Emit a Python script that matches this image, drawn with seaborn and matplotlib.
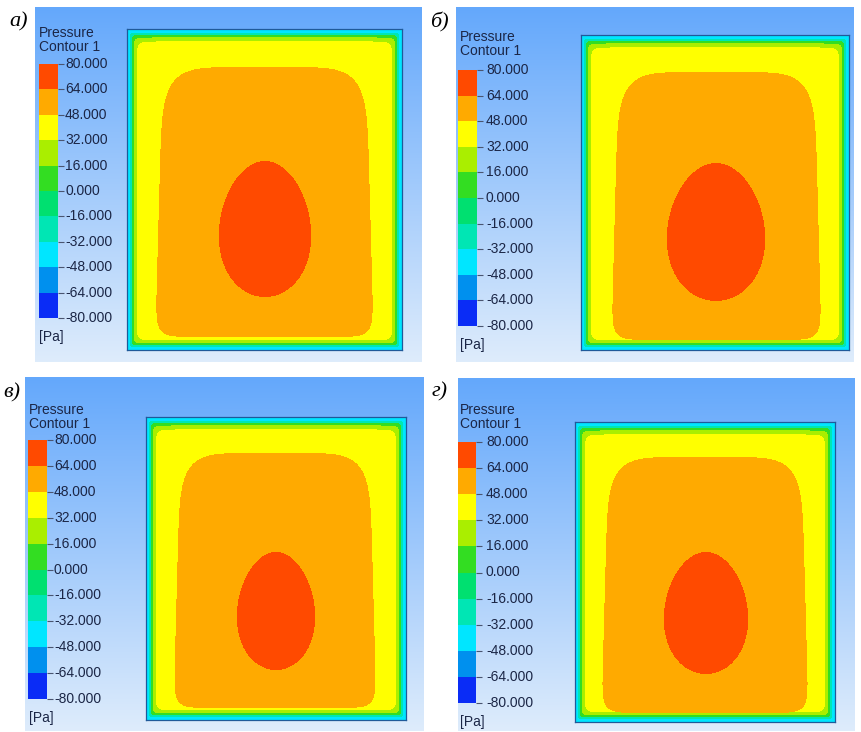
import numpy as np
import matplotlib
matplotlib.use("Agg")
import matplotlib.pyplot as plt
from matplotlib.colors import ListedColormap
import seaborn as sns

# ---------------- data ----------------
panel_labels = ["а)", "б)", "в)", "г)"]
tick_labels = ["80.000", "64.000", "48.000", "32.000", "16.000", "0.000",
               "-16.000", "-32.000", "-48.000", "-64.000", "-80.000"]
tick_values = [80, 64, 48, 32, 16, 0, -16, -32, -48, -64, -80]
band_colors = ["#0a2cf6", "#0090ee", "#00e6ff", "#00e6b4", "#00e070",
               "#33dd22", "#aaee00", "#ffff00", "#ffaa00", "#ff4a00"]  # low -> high

# pressure level of each zone of the contour [Pa]
p_wall_edge = -40.0
p_wall_teal = -24.0
p_wall_green = 8.0
p_wall_yg = 24.0
p_yellow = 40.0
p_core = 56.0
p_peak = 72.0

# geometry (pixels)
bg_boxes = [(35, 7, 422, 362), (456, 7, 854, 362),
            (25, 377, 424, 731), (458, 378, 854, 731)]
dom_boxes = [(127, 29, 402, 350), (581, 35, 849, 350),
             (146, 417, 406, 720), (575, 422, 835, 722)]
core_insets = [(32, 32, 38, 13), (34, 31, 37, 10),
               (31, 33, 36, 12), (30, 30, 35, 9)]
eggs = [(138, 200, 46, 68), (135, 197, 49, 69),
        (130, 194, 39, 59), (131, 191, 42, 61)]
cbar_boxes = [(39, 58, 64, 318, 65), (458, 477, 70, 326, 486),
              (28, 47, 440, 699, 54), (458, 476, 442, 703, 486)]
title_pos = [(39, 33), (460, 37), (29, 410), (460, 410)]
letter_pos = [(9, 22), (430, 22), (3, 393), (432, 392)]

FW, FH = 861, 732

sns.set_theme(style="white")
plt.rcParams["font.family"] = ["Liberation Sans", "DejaVu Sans"]

fig = plt.figure(figsize=(FW / 100, FH / 100), dpi=100)
fig.patch.set_facecolor("white")

cmap = ListedColormap(band_colors)
txt_col = "#1b2646"


def px_axes(x0, y0, x1, y1):
    return fig.add_axes([x0 / FW, 1 - y1 / FH, (x1 - x0) / FW, (y1 - y0) / FH])


def ftext(x, y, s, **kw):
    fig.text(x / FW, 1 - y / FH, s, **kw)


def build_field(W, H, inset, egg):
    x = np.arange(W) + 0.5
    y = np.arange(H) + 0.5
    X, Y = np.meshgrid(x, y)
    dl, dr, dt, db = X, W - X, Y / 1.3, (H - Y)
    p = 3.0
    d = (dl ** -p + dr ** -p + dt ** -p + db ** -p) ** (-1 / p)
    F = np.full((H, W), p_yellow)
    F[d < 9.5] = p_wall_yg
    F[d < 6.5] = p_wall_green
    F[d < 4.5] = p_wall_teal
    F[d < 2.8] = p_wall_edge
    L, R, T, B = inset
    cx = (L + W - R) / 2
    a = (W - R - L) / 2
    cy = (T + H - B) / 2
    b = (H - B - T) / 2
    t = (Y - cy) / b
    a_loc = a * (1 + 0.035 * t)
    n = np.where(t < 0, 6.0, 14.0)
    r = (np.abs((X - cx) / a_loc) ** n + np.abs(t) ** n) ** (1 / n)
    F[r <= 1] = p_core
    ex, ey, ea, eb = egg
    te = (Y - ey) / eb
    ea_loc = ea * (1 + 0.10 * te)
    re = ((X - ex) / ea_loc) ** 2 + te ** 2
    F[re <= 1] = p_peak
    return F


for i in range(4):
    bx0, by0, bx1, by1 = bg_boxes[i]
    bga = px_axes(bx0, by0, bx1, by1)
    top = np.array([100, 168, 252]) / 255
    bot = np.array([222, 236, 251]) / 255
    s = np.linspace(0, 1, 256)[:, None, None]
    grad = top * (1 - s) + bot * s
    grad = np.repeat(grad, 2, axis=1)
    bga.imshow(grad, aspect="auto", extent=(0, 1, 0, 1))
    bga.set_axis_off()

    x0, y0, x1, y1 = dom_boxes[i]
    W, H = x1 - x0, y1 - y0
    F = build_field(W, H, core_insets[i], eggs[i])
    ax = px_axes(x0, y0, x1, y1)
    sns.heatmap(F, cmap=cmap, vmin=-80, vmax=80, cbar=False,
                xticklabels=False, yticklabels=False, ax=ax)
    for sp in ax.spines.values():
        sp.set_visible(True)
        sp.set_color("#1f5a9a")
        sp.set_linewidth(0.9)

    cx0, cx1, cy0, cy1, lx = cbar_boxes[i]
    cax = px_axes(cx0, cy0, cx1, cy1)
    mids = np.array([(tick_values[k] + tick_values[k + 1]) / 2
                     for k in range(10)]).reshape(-1, 1)
    sns.heatmap(mids, cmap=cmap, vmin=-80, vmax=80, cbar=False,
                xticklabels=False, yticklabels=False, ax=cax)
    cax.set_yticks(np.arange(11))
    cax.tick_params(axis="y", left=False, right=True, length=4, width=0.8,
                    color="#4a5570", labelleft=False, labelright=False)
    for sp in cax.spines.values():
        sp.set_visible(False)
    ys = np.linspace(cy0, cy1, 11)
    for k in range(11):
        ftext(lx, ys[k], tick_labels[k], fontsize=10, color=txt_col,
              ha="left", va="center")
    tx, ty = title_pos[i]
    ftext(tx, ty, "Pressure", fontsize=10, color=txt_col, ha="left", va="center")
    ftext(tx, ty + 14, "Contour 1", fontsize=10, color=txt_col, ha="left", va="center")
    ftext(tx, cy1 + 19, "[Pa]", fontsize=10, color=txt_col, ha="left", va="center")

    px, py = letter_pos[i]
    ftext(px, py, panel_labels[i], fontsize=16, color="black", ha="left",
          va="center", family=["Liberation Serif", "DejaVu Serif"], style="italic")

fig.savefig("out.png", dpi=100, facecolor="white")
